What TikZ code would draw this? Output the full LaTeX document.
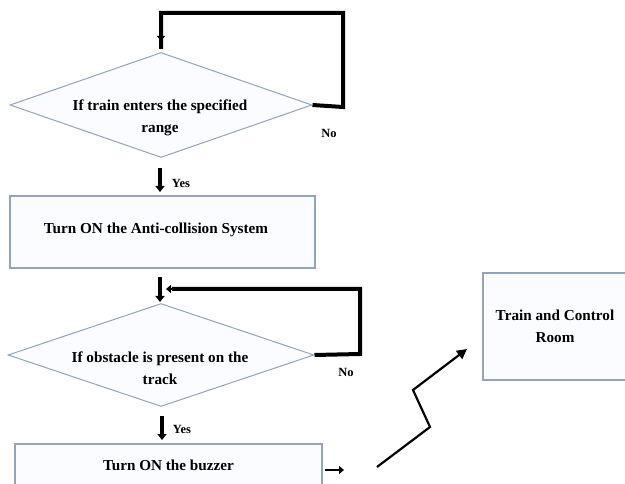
\documentclass[tikz,border=0pt]{standalone}
\usepackage{fontspec}
\setmainfont{Liberation Serif}
\usetikzlibrary{shapes.geometric,arrows.meta}
\definecolor{edgec}{HTML}{93A4B8}
\definecolor{fillc}{HTML}{FAFCFF}
\tikzset{
  mainfont/.style={font=\fontsize{15.2}{22.5}\selectfont\bfseries},
  proc/.style={draw=edgec, line width=1.2pt, fill=fillc, rectangle, inner sep=0pt,
    mainfont, align=center},
  dec/.style={draw=edgec, line width=1pt, fill=fillc, diamond, inner sep=0pt,
    mainfont, align=center},
  lbl/.style={font=\fontsize{12.5}{14}\selectfont\bfseries, inner sep=0pt},
  loopline/.style={line width=4pt, draw=black, line join=miter},
  yesarrow/.style={line width=3.2pt, -{Triangle[length=6pt,width=9pt]}},
  thinarrow/.style={line width=2.6pt, -{Triangle[length=5pt,width=8pt]}},
  zz/.style={line width=2.2pt, -{Triangle[length=10pt,width=10pt]}, line join=miter}
}
\begin{document}
\begin{tikzpicture}[x=1pt,y=-1pt]
\useasboundingbox (0,0) rectangle (625,484);
\clip (0,0) rectangle (625,484);
% decision 1
\node[dec, minimum width=302pt, minimum height=105pt] (d1) at (161,105) {};
\node[mainfont, align=center] (t1) at (160,118) {If train enters the specified\\range};
% loop 1
\coordinate (l1a) at (343,107);
\coordinate (l1b) at (343,13);
\coordinate (l1c) at (161,13);
\coordinate (l1d) at (161,41);
\draw[loopline] (d1.east) -- (l1a) -- (l1b) -- (l1c) -- ([yshift=-8pt]l1d);
\draw[thinarrow] (161,28) -- (l1d);
\node[lbl] (no1) at (329,133) {No};
% yes 1
\coordinate (y1a) at (160,168);
\coordinate (y1b) at (160,192);
\draw[yesarrow] (y1a) -- (y1b);
\node[lbl] (yes1) at (181,183) {Yes};
% box 1
\node[proc, minimum width=305pt, minimum height=72pt] (b1) at (162.5,232) {};
\node[mainfont] (b1t) at (156,230) {Turn ON the Anti-collision System};
% arrow into decision 2
\coordinate (a2a) at (160,277);
\coordinate (a2b) at (160,302);
\draw[yesarrow] (a2a) -- (a2b);
% decision 2
\node[dec, minimum width=306pt, minimum height=103pt] (d2) at (161,355) {};
\node[mainfont, align=center] (t2) at (160,368) {If obstacle is present on the\\track};
% loop 2
\coordinate (l2a) at (360,354);
\coordinate (l2b) at (360,289);
\coordinate (l2c) at (166,289);
\draw[loopline] (d2.east) -- (l2a) -- (l2b) -- ([xshift=6pt]l2c);
\draw[thinarrow] (178,289) -- (l2c);
\node[lbl] (no2) at (346,372) {No};
% yes 2
\coordinate (y2a) at (162,416);
\coordinate (y2b) at (162,440);
\draw[yesarrow] (y2a) -- (y2b);
\node[lbl] (yes2) at (182,429) {Yes};
% box 3
\node[proc, minimum width=307pt, minimum height=42pt] (b3) at (168.5,465) {Turn ON the buzzer};
% small arrow
\coordinate (s1) at (325,470);
\coordinate (s2) at (344,470);
\draw[thinarrow] (s1) -- (s2);
% train box
\node[proc, minimum width=144pt, minimum height=107pt] (tr) at (555,326.5) {Train and Control\\Room};
% zigzag
\coordinate (z0) at (377,467);
\coordinate (z1) at (430,427);
\coordinate (z2) at (413,390);
\coordinate (z3) at (467,349);
\draw[zz] (z0) -- (z1) -- (z2) -- (z3);
\end{tikzpicture}
\end{document}
